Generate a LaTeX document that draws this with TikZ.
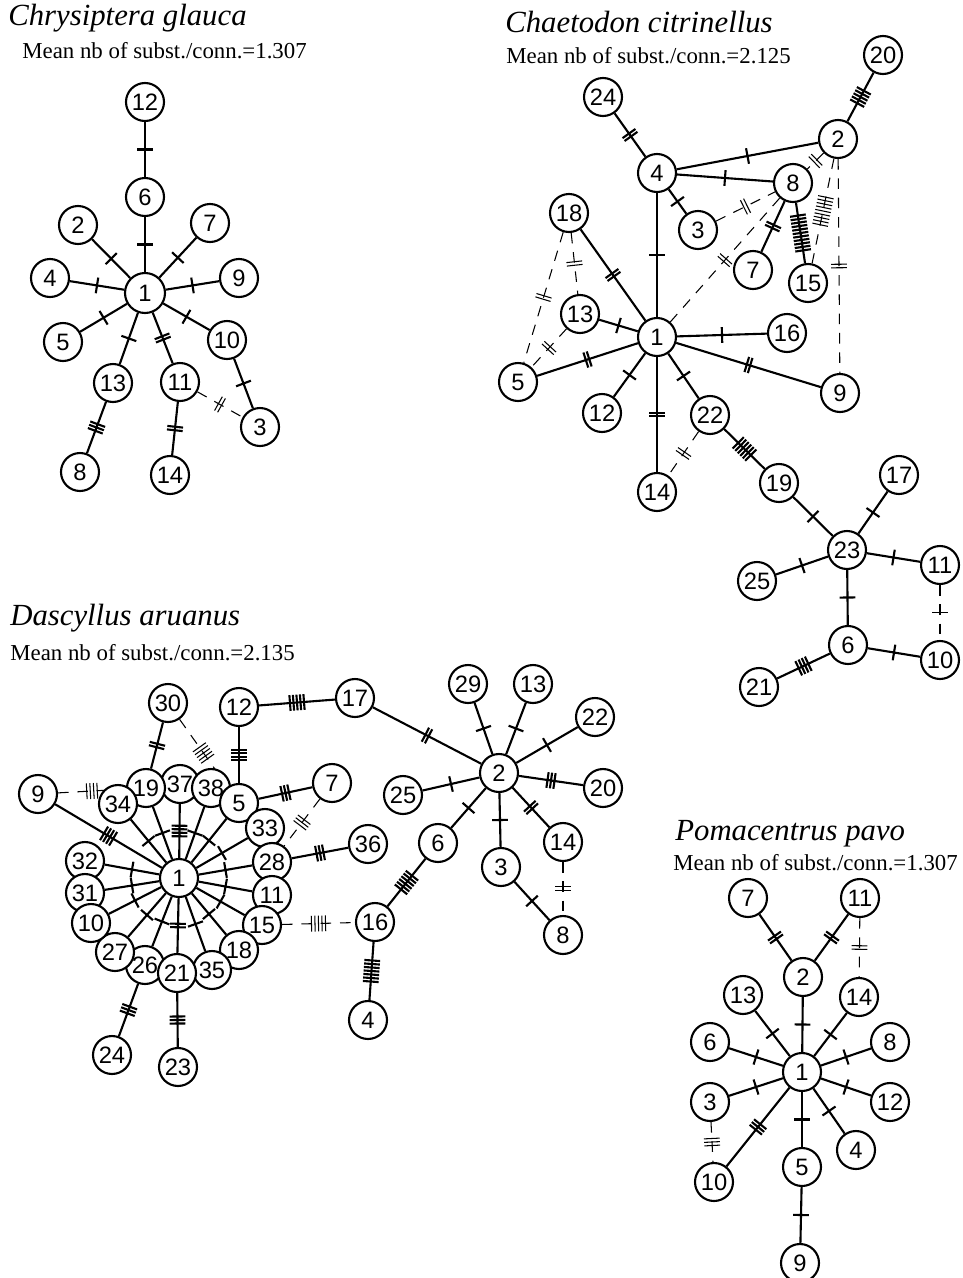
\documentclass[tikz,border=0pt]{standalone}
\usepackage{fontspec}
\setmainfont{Liberation Serif}
\newfontfamily\hapfont{Liberation Sans}
\usetikzlibrary{decorations.markings}
\pgfdeclarelayer{background}
\pgfsetlayers{background,main}
\tikzset{
  hap/.style={circle,draw,fill=white,line width=1.2pt,minimum size=0.76cm,inner sep=0pt,
    font=\hapfont\fontsize{13.5}{13.5}\selectfont},
  link/.style={line width=1.2pt},
  dlink/.style={line width=0.6pt,dash pattern=on 6pt off 5pt},
  subst/.style={postaction={decorate,decoration={markings,mark=at position 0.5 with {
    \foreach \k in {1,...,#1}{\draw[solid] ({(\k-(#1+1)/2)*2pt},-4.5pt) -- ++(0,9pt);}}}}},
  species/.style={anchor=base west,inner sep=0pt,font=\fontsize{17.5}{20}\selectfont\itshape},
  meannb/.style={anchor=base west,inner sep=0pt,font=\fontsize{13}{15}\selectfont}
}
\begin{document}
\begin{tikzpicture}[x=0.02cm,y=-0.02cm]
  \useasboundingbox (0,0) rectangle (963,1278);
  % titles
  \node[species] at(8,25)(cgname){Chrysiptera glauca};
  \node[meannb] at(22,58)(cgmean){Mean nb of subst./conn.=1.307};
  \node[species] at(505,32)(ccname){Chaetodon citrinellus};
  \node[meannb] at(506,63)(ccmean){Mean nb of subst./conn.=2.125};
  \node[species] at(10,625)(daname){Dascyllus aruanus};
  \node[meannb] at(10,660)(damean){Mean nb of subst./conn.=2.135};
  \node[species] at(675,840)(ppname){Pomacentrus pavo};
  \node[meannb] at(673,870)(ppmean){Mean nb of subst./conn.=1.307};

  % Chrysiptera glauca
  \node[hap] at(145,102)(cg12){12};
  \node[hap] at(145,197)(cg6){6};
  \node[hap] at(78,225)(cg2){2};
  \node[hap] at(210,223)(cg7){7};
  \node[hap] at(50,278)(cg4){4};
  \node[hap] at(239,278)(cg9){9};
  \node[hap] at(63,342)(cg5){5};
  \node[hap] at(227,340)(cg10){10};
  \node[hap] at(113,383)(cg13){13};
  \node[hap] at(180,382)(cg11){11};
  \node[hap] at(260,427)(cg3){3};
  \node[hap] at(80,472)(cg8){8};
  \node[hap] at(170,475)(cg14){14};
  \node[hap,minimum size=0.8cm] at(145,293)(cg1){1};
  \begin{pgfonlayer}{background}
  \draw[link,subst=1](cg12) -- (cg6);
  \draw[link,subst=1](cg6) -- (cg1);
  \draw[link,subst=1](cg1) -- (cg2);
  \draw[link,subst=1](cg1) -- (cg7);
  \draw[link,subst=1](cg1) -- (cg4);
  \draw[link,subst=1](cg1) -- (cg9);
  \draw[link,subst=1](cg1) -- (cg5);
  \draw[link,subst=1](cg1) -- (cg10);
  \draw[link,subst=1](cg1) -- (cg13);
  \draw[link,subst=2](cg1) -- (cg11);
  \draw[link,subst=1](cg10) -- (cg3);
  \draw[link,subst=3](cg13) -- (cg8);
  \draw[link,subst=2](cg11) -- (cg14);
  \draw[dlink,subst=2](cg11) -- (cg3);
  \end{pgfonlayer}

  % Chaetodon citrinellus
  \node[hap] at(883,55)(cc20){20};
  \node[hap] at(603,97)(cc24){24};
  \node[hap] at(838,139)(cc2){2};
  \node[hap] at(657,173)(cc4){4};
  \node[hap] at(793,183)(cc8){8};
  \node[hap] at(569,213)(cc18){18};
  \node[hap] at(698,230)(cc3){3};
  \node[hap] at(753,270)(cc7){7};
  \node[hap] at(808,283)(cc15){15};
  \node[hap] at(580,314)(cc13){13};
  \node[hap] at(657,337)(cc1){1};
  \node[hap] at(787,333)(cc16){16};
  \node[hap] at(518,382)(cc5){5};
  \node[hap] at(840,393)(cc9){9};
  \node[hap] at(602,413)(cc12){12};
  \node[hap] at(710,415)(cc22){22};
  \node[hap] at(657,492)(cc14){14};
  \node[hap] at(779,483)(cc19){19};
  \node[hap] at(899,475)(cc17){17};
  \node[hap] at(847,550)(cc23){23};
  \node[hap] at(940,565)(cc11){11};
  \node[hap] at(757,581)(cc25){25};
  \node[hap] at(848,645)(cc6){6};
  \node[hap] at(940,660)(cc10){10};
  \node[hap] at(759,687)(cc21){21};
  \begin{pgfonlayer}{background}
  \draw[link,subst=5](cc20) -- (cc2);
  \draw[link,subst=2](cc24) -- (cc4);
  \draw[link,subst=1](cc4) -- (cc2);
  \draw[link,subst=1](cc4) -- (cc8);
  \draw[link,subst=1](cc4) -- (cc3);
  \draw[link,subst=1](cc4) -- (cc1);
  \draw[link,subst=2](cc18) -- (cc1);
  \draw[link,subst=2](cc8) -- (cc7);
  \draw[link,subst=11](cc8) -- (cc15);
  \draw[link,subst=1](cc13) -- (cc1);
  \draw[link,subst=1](cc1) -- (cc16);
  \draw[link,subst=2](cc1) -- (cc5);
  \draw[link,subst=2](cc1) -- (cc9);
  \draw[link,subst=1](cc1) -- (cc12);
  \draw[link,subst=2](cc1) -- (cc14);
  \draw[link,subst=1](cc1) -- (cc22);
  \draw[link,subst=6](cc22) -- (cc19);
  \draw[link,subst=1](cc19) -- (cc23);
  \draw[link,subst=1](cc23) -- (cc17);
  \draw[link,subst=1](cc23) -- (cc25);
  \draw[link,subst=1](cc23) -- (cc11);
  \draw[link,subst=1](cc23) -- (cc6);
  \draw[link,subst=1](cc6) -- (cc10);
  \draw[link,subst=4](cc6) -- (cc21);
  % alternative connections
  \draw[dlink,subst=2](cc2) -- (cc8);
  \draw[dlink,subst=9](cc2) -- (cc15);
  \draw[dlink,subst=2](cc2) -- (cc9);
  \draw[dlink,subst=2](cc3) -- (cc8);
  \draw[dlink,subst=2](cc1) -- (cc8);
  \draw[dlink,subst=2](cc18) -- (cc13);
  \draw[dlink,subst=2](cc18) -- (cc5);
  \draw[dlink,subst=2](cc13) -- (cc5);
  \draw[dlink,subst=2](cc22) -- (cc14);
  \draw[dlink,subst=1](cc11) -- (cc10);
  \end{pgfonlayer}

  % Dascyllus aruanus
  \node[hap] at(168,703)(da30){30};
  \node[hap] at(239,707)(da12){12};
  \node[hap] at(355,698)(da17){17};
  \node[hap] at(38,794)(da9){9};
  \node[hap] at(332,783)(da7){7};
  \node[hap] at(368,844)(da36){36};
  \node[hap] at(375,922)(da16){16};
  \node[hap] at(112,1055)(da24){24};
  \node[hap] at(178,1067)(da23){23};
  \node[hap] at(368,1020)(da4){4};
  \node[hap] at(180,784)(da37){37};
  \node[hap] at(146,788)(da19){19};
  \node[hap] at(118,804)(da34){34};
  \node[hap] at(211,788)(da38){38};
  \node[hap] at(239,803)(da5){5};
  \node[hap] at(265,828)(da33){33};
  \node[hap] at(272,862)(da28){28};
  \node[hap] at(272,895)(da11){11};
  \node[hap] at(262,925)(da15){15};
  \node[hap] at(239,950)(da18){18};
  \node[hap] at(145,965)(da26){26};
  \node[hap] at(212,970)(da35){35};
  \node[hap] at(177,973)(da21){21};
  \node[hap] at(85,861)(da32){32};
  \node[hap] at(85,893)(da31){31};
  \node[hap] at(115,952)(da27){27};
  \node[hap] at(91,923)(da10){10};
  \node[hap] at(179,878)(da1){1};
  \node[hap] at(468,684)(da29){29};
  \node[hap] at(533,684)(da13){13};
  \node[hap] at(595,717)(da22){22};
  \node[hap] at(499,773)(da2){2};
  \node[hap] at(403,795)(da25){25};
  \node[hap] at(603,788)(da20){20};
  \node[hap] at(438,843)(da6){6};
  \node[hap] at(563,842)(da14){14};
  \node[hap] at(501,867)(da3){3};
  \node[hap] at(563,935)(da8){8};
  \begin{pgfonlayer}{background}
  \draw[link,subst=1](da1) -- (da19);
  \draw[link,subst=1](da1) -- (da34);
  \draw[link,subst=4](da1) -- (da37);
  \draw[link,subst=1](da1) -- (da38);
  \draw[link,subst=1](da1) -- (da5);
  \draw[link,subst=1](da1) -- (da33);
  \draw[link,subst=1](da1) -- (da28);
  \draw[link,subst=1](da1) -- (da11);
  \draw[link,subst=1](da1) -- (da15);
  \draw[link,subst=1](da1) -- (da18);
  \draw[link,subst=1](da1) -- (da35);
  \draw[link,subst=2](da1) -- (da21);
  \draw[link,subst=1](da1) -- (da26);
  \draw[link,subst=1](da1) -- (da27);
  \draw[link,subst=1](da1) -- (da10);
  \draw[link,subst=1](da1) -- (da31);
  \draw[link,subst=1](da1) -- (da32);
  \draw[link,subst=4](da1) -- (da9);
  \draw[link,subst=2](da19) -- (da30);
  \draw[link,subst=4](da12) -- (da5);
  \draw[link,subst=5](da12) -- (da17);
  \draw[link,subst=2](da17) -- (da2);
  \draw[link,subst=3](da5) -- (da7);
  \draw[link,subst=3](da28) -- (da36);
  \draw[link,subst=6](da16) -- (da6);
  \draw[link,subst=7](da16) -- (da4);
  \draw[link,subst=3](da26) -- (da24);
  \draw[link,subst=3](da21) -- (da23);
  \draw[link,subst=1](da2) -- (da29);
  \draw[link,subst=1](da2) -- (da13);
  \draw[link,subst=1](da2) -- (da22);
  \draw[link,subst=3](da2) -- (da20);
  \draw[link,subst=1](da2) -- (da25);
  \draw[link,subst=1](da2) -- (da6);
  \draw[link,subst=1](da2) -- (da3);
  \draw[link,subst=2](da2) -- (da14);
  \draw[link,subst=1](da3) -- (da8);
  % alternative connections
  \draw[dlink,subst=4](da9) -- (da19);
  \draw[dlink,subst=5](da30) -- (da5);
  \draw[dlink,subst=3](da7) -- (da28);
  \draw[dlink,subst=5](da15) -- (da16);
  \draw[dlink,subst=2](da14) -- (da8);
  \end{pgfonlayer}

  % Pomacentrus pavo
  \node[hap] at(748,898)(pp7){7};
  \node[hap] at(860,898)(pp11){11};
  \node[hap] at(803,977)(pp2){2};
  \node[hap] at(743,995)(pp13){13};
  \node[hap] at(859,997)(pp14){14};
  \node[hap] at(710,1042)(pp6){6};
  \node[hap] at(890,1042)(pp8){8};
  \node[hap] at(802,1072)(pp1){1};
  \node[hap] at(710,1102)(pp3){3};
  \node[hap] at(890,1102)(pp12){12};
  \node[hap] at(856,1150)(pp4){4};
  \node[hap] at(802,1167)(pp5){5};
  \node[hap] at(714,1182)(pp10){10};
  \node[hap] at(800,1263)(pp9){9};
  \begin{pgfonlayer}{background}
  \draw[link,subst=2](pp7) -- (pp2);
  \draw[link,subst=2](pp11) -- (pp2);
  \draw[link,subst=1](pp2) -- (pp1);
  \draw[link,subst=1](pp1) -- (pp13);
  \draw[link,subst=1](pp1) -- (pp14);
  \draw[link,subst=1](pp1) -- (pp6);
  \draw[link,subst=1](pp1) -- (pp8);
  \draw[link,subst=1](pp1) -- (pp3);
  \draw[link,subst=1](pp1) -- (pp12);
  \draw[link,subst=1](pp1) -- (pp4);
  \draw[link,subst=1](pp1) -- (pp5);
  \draw[link,subst=3](pp1) -- (pp10);
  \draw[link,subst=1](pp5) -- (pp9);
  % alternative connections
  \draw[dlink,subst=2](pp11) -- (pp14);
  \draw[dlink,subst=3](pp3) -- (pp10);
  \end{pgfonlayer}
\end{tikzpicture}
\end{document}
